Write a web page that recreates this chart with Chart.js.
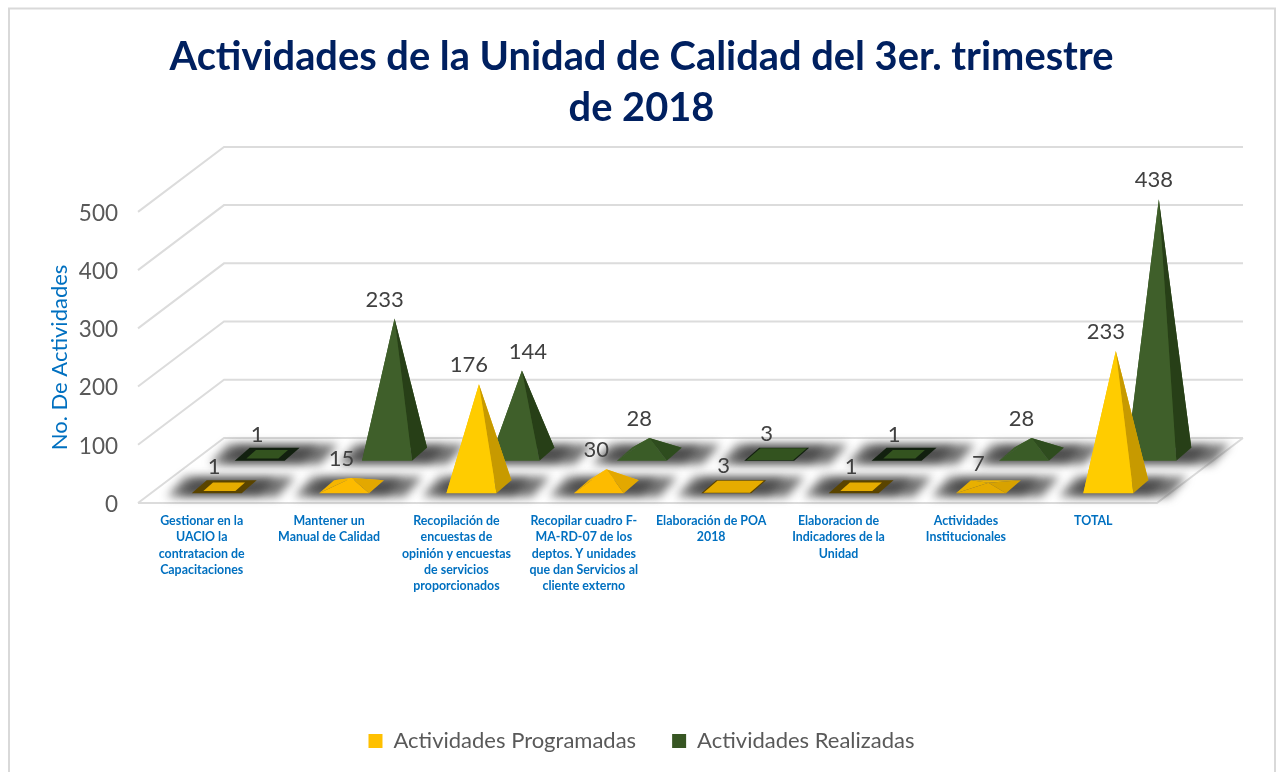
<!DOCTYPE html>
<html lang="es">
<head>
<meta charset="utf-8">
<title>Actividades de la Unidad de Calidad</title>
<script src="https://cdn.jsdelivr.net/npm/chart.js@4"></script>
<style>
html,body{margin:0;padding:0;background:#fff;overflow:hidden}
#wrap{width:1277px;height:772px;position:relative}
canvas{display:block}
</style>
</head>
<body>
<div id="wrap"><canvas id="c" width="1277" height="772"></canvas></div>
<script>
const categories = [
  ["Gestionar en la","UACIO la","contratacion de","Capacitaciones"],
  ["Mantener un","Manual de Calidad"],
  ["Recopilación de","encuestas de","opinión y encuestas","de servicios","proporcionados"],
  ["Recopilar cuadro F-","MA-RD-07 de los","deptos. Y unidades","que dan Servicios al","cliente externo"],
  ["Elaboración de POA","2018"],
  ["Elaboracion de","Indicadores de la","Unidad"],
  ["Actividades","Institucionales"],
  ["TOTAL"]
];
const programadas = [1,15,176,30,3,1,7,233];
const realizadas  = [1,233,144,28,3,1,28,438];
const titleLines = ["Actividades de la Unidad de Calidad del 3er. trimestre","de 2018"];
const yAxisTitle = "No. De Actividades";
const seriesNames = ["Actividades Programadas","Actividades Realizadas"];

const FONT = "Lato, Carlito, Calibri, sans-serif";
const DEPTH = {x:86, y:-65};
const GRID = "#dcdcdc";

const PALETTES = [
  {
    tall:{front:"#FFCC00",right:"#C79A00",left:"#F2BE00",back:"#E8B400"},
    low:{front:"#FDBB00",right:"#E3A800",left:"#F5B500",back:"#FFC61A"},
    tiny:{front:"#E6AC00",right:"#D8A200",left:"#E8B000",back:"#EBB408"},
    frame:"#5A4400"
  },
  {
    tall:{front:"#3F5F2A",right:"#273F17",left:"#3A5A27",back:"#34521F"},
    low:{front:"#3A5C27",right:"#2E4C1E",left:"#3A5C27",back:"#47692F"},
    tiny:{front:"#33531F",right:"#30502A",left:"#37582A",back:"#3A5C2A"},
    frame:"#12200F"
  }
];
const ROW_DEPTH = [0.25, 0.75];

function baseOf(el, rowIdx, scaleY){
  const d = ROW_DEPTH[rowIdx];
  return {x: el.x + DEPTH.x*d + 1, y: scaleY.getPixelForValue(0) + DEPTH.y*d, lift: DEPTH.y*d};
}
function poly(ctx, pts, fill){
  ctx.beginPath();
  pts.forEach((p,i)=> i ? ctx.lineTo(p[0],p[1]) : ctx.moveTo(p[0],p[1]));
  ctx.closePath();
  ctx.fillStyle = fill;
  ctx.fill();
}
function rhomb(c, hw, dx, dy){
  return [[c.x-hw-dx,c.y+dy],[c.x+hw-dx,c.y+dy],[c.x+hw+dx,c.y-dy],[c.x-hw+dx,c.y-dy]];
}

class PyramidController extends Chart.BarController {
  draw(){
    const ctx = this.chart.ctx, meta = this.getMeta(), row = this.index;
    const pal = PALETTES[row], yS = this.chart.scales.y;
    const vals = this.getDataset().data;
    meta.data.forEach((el,i)=>{
      const v = vals[i], c = baseOf(el,row,yS);
      const apex = [c.x, el.y + c.lift];
      const hw = 25, dx = 7.5, dy = 6.5;
      const A=[c.x-hw+dx,c.y-dy], B=[c.x-hw-dx,c.y+dy], C=[c.x+hw-dx,c.y+dy], D=[c.x+hw+dx,c.y-dy];
      if(v < 7){
        poly(ctx,[A,B,C,D],pal.frame);
        const k = v<=1 ? 0.64 : 0.93;
        poly(ctx,rhomb(c,hw*k,dx*k,dy*k),pal.tiny.front);
        return;
      }
      const col = v>=100 ? pal.tall : (v>=10 ? pal.low : pal.tiny);
      ctx.save();
      ctx.lineJoin="round";
      poly(ctx,[A,D,apex],col.back);
      poly(ctx,[A,B,apex],col.left);
      poly(ctx,[C,D,apex],col.right);
      poly(ctx,[B,C,apex],col.front);
      ctx.restore();
    });
  }
}
PyramidController.id = "pyramid";
PyramidController.defaults = Chart.BarController.defaults;
PyramidController.overrides = Chart.BarController.overrides;
Chart.register(PyramidController);

const stagePlugin = {
  id:"stage",
  beforeDraw(chart){
    const ctx = chart.ctx;
    ctx.save();
    ctx.strokeStyle="#d9d9d9"; ctx.lineWidth=2;
    ctx.beginPath();
    ctx.moveTo(9,800); ctx.lineTo(9,8.5); ctx.lineTo(1275,8.5); ctx.lineTo(1275,800);
    ctx.stroke();
    ctx.restore();
  },
  beforeDatasetsDraw(chart){
    const ctx = chart.ctx, yS = chart.scales.y, a = chart.chartArea;
    ctx.save();
    ctx.strokeStyle=GRID; ctx.lineWidth=2;
    yS.ticks.forEach(t=>{
      const y = yS.getPixelForValue(t.value);
      ctx.beginPath();
      ctx.moveTo(a.left,y);
      ctx.lineTo(a.left+DEPTH.x,y+DEPTH.y);
      ctx.lineTo(a.right+DEPTH.x,y+DEPTH.y);
      if(t.value===0){
        ctx.moveTo(a.left,y);
        ctx.lineTo(a.right,y);
        ctx.lineTo(a.right+DEPTH.x,y+DEPTH.y);
      }
      ctx.stroke();
    });
    // soft floor shadows beneath each mark
    chart.data.datasets.forEach((ds,row)=>{
      chart.getDatasetMeta(row).data.forEach(el=>{
        const c = baseOf(el,row,yS);
        ctx.filter="blur(5px)";
        poly(ctx,rhomb({x:c.x+7,y:c.y},55,9,10),"rgba(90,90,90,0.85)");
        ctx.filter="blur(4px)";
        poly(ctx,rhomb({x:c.x+3,y:c.y},40,8,8),"rgba(40,40,40,0.5)");
      });
    });
    ctx.filter="none";
    ctx.restore();
  },
  afterDatasetsDraw(chart){
    const ctx = chart.ctx, yS = chart.scales.y;
    ctx.save();
    ctx.font="22px "+FONT;
    ctx.fillStyle="#404040";
    ctx.textAlign="center";
    ctx.textBaseline="middle";
    chart.data.datasets.forEach((ds,row)=>{
      chart.getDatasetMeta(row).data.forEach((el,i)=>{
        const c = baseOf(el,row,yS);
        let dx = -10;
        if(row===1 && i===2) dx = 6;
        if(row===1 && i===7) dx = -5;
        ctx.fillText(String(ds.data[i]), c.x+dx, el.y+c.lift-19);
      });
    });
    ctx.restore();
  }
};

new Chart(document.getElementById("c"),{
  type:"pyramid",
  data:{
    labels:categories,
    datasets:[
      {label:seriesNames[0],data:programadas,backgroundColor:"#FFC000",grouped:false,borderWidth:0,clip:false},
      {label:seriesNames[1],data:realizadas,backgroundColor:"#375623",grouped:false,borderWidth:0,clip:false}
    ]
  },
  plugins:[stagePlugin],
  options:{
    responsive:false,
    animation:false,
    layout:{padding:{left:6,right:0,top:0,bottom:10}},
    scales:{
      x:{
        type:"category",
        offset:true,
        grid:{display:false,drawTicks:false},
        border:{display:false},
        ticks:{
          autoSkip:false,maxRotation:0,minRotation:0,padding:10,
          color:"#0070C0",
          font:{family:FONT,size:12.4,weight:"bold",lineHeight:1.31}
        },
        afterFit(s){ s.height = 191; }
      },
      y:{
        type:"linear",min:0,max:500,
        grid:{display:false,drawTicks:false},
        border:{display:false},
        ticks:{stepSize:100,padding:20,color:"#595959",labelOffset:1.5,font:{family:FONT,size:22.5}},
        title:{display:true,text:yAxisTitle,color:"#0070C0",font:{family:FONT,size:22},padding:{top:41,bottom:0}},
        afterFit(s){ s.width = 132; }
      },
      spacer:{
        type:"linear",position:"right",display:true,
        grid:{display:false,drawTicks:false},
        border:{display:false},
        ticks:{display:false},
        afterFit(s){ s.width = 120; }
      }
    },
    plugins:{
      tooltip:{enabled:false},
      title:{
        display:true,text:titleLines,color:"#002060",
        font:{family:FONT,size:39.8,weight:"bold",lineHeight:1.28},
        padding:{top:32,bottom:78}
      },
      legend:{
        position:"bottom",
        labels:{boxWidth:14,boxHeight:14,color:"#595959",padding:36,font:{family:FONT,size:22}}
      }
    }
  }
});
</script>
</body>
</html>
